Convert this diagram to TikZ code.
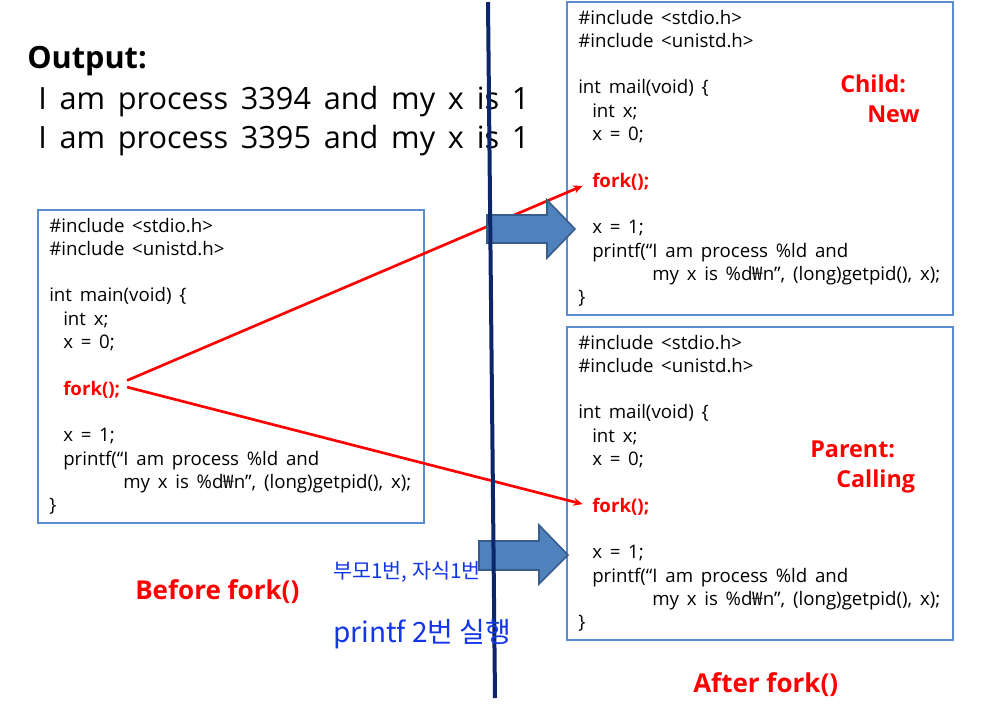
\documentclass[tikz,border=0pt]{standalone}
\usepackage{fontspec}
\setmainfont{Open Sans}[WordSpace=1.6]
\newfontfamily\labelfont{Open Sans}
\newfontfamily\krfont{Noto Sans CJK KR}
\usetikzlibrary{arrows.meta}

\definecolor{codeframe}{RGB}{91,140,205}
\definecolor{arrowfill}{RGB}{79,129,189}
\definecolor{arrowedge}{RGB}{56,93,138}
\definecolor{divider}{RGB}{12,38,105}
\definecolor{penblue}{RGB}{20,55,230}
\definecolor{hotred}{RGB}{255,0,0}

\tikzset{
  codeline/.style={anchor=base west, inner sep=0pt, font=\fontsize{14}{16}\selectfont},
  forkline/.style={codeline, text=hotred, font=\fontsize{14}{16}\selectfont\bfseries},
  framebox/.style={draw=codeframe, line width=0.8pt},
  blockarrow/.style={fill=arrowfill, draw=arrowedge, line width=1.2pt, line join=miter},
  callout/.style={anchor=base west, inner sep=0pt, text=hotred, font=\labelfont\fontsize{17.5}{22}\selectfont\bfseries},
  outline/.style={anchor=base west, inner sep=0pt, font=\fontsize{23}{28}\selectfont},
  forkarrow/.style={hotred, line width=2pt, -{Stealth[length=7pt,width=6pt]}},
  pennote/.style={anchor=base west, inner sep=0pt, text=penblue},
}

\begin{document}
\begin{tikzpicture}[x=0.75pt,y=-0.75pt]
  \fill[white] (0,0) rectangle (1004,718);
  \useasboundingbox (0,0) rectangle (1004,718);
  % Program output
  \node[outline, font=\fontsize{23}{28}\selectfont\bfseries] (outtitle) at (27,68) {Output:};
  \node[outline] (out1) at (38,109) {I am process 3394 and my x is 1};
  \node[outline] (out2) at (38,148) {I am process 3395 and my x is 1};
  % Code boxes: before fork, child, parent
  \foreach \nm/\bx/\by/\fname in {before/38/210/main, child/567/2/mail, parent/567/327/mail} {
    \draw[framebox] (\bx,\by) rectangle ++(386,313);
    \foreach \row/\ofs/\txt in {0/0/{\#include <stdio.h>}, 1/0/{\#include <unistd.h>},
        3/0/{int \fname(void) \{}, 4/14/{int x;}, 5/14/{x = 0;}, 9/14/{x = 1;},
        10/14/{printf(“I am process \%ld and}, 11/74/{my x is \%d{\krfont ₩}n”, (long)getpid(), x);},
        12/0/{\}}}
      \node[codeline] (\nm-\row) at (\bx+11+\ofs, \by+22+\row*23.3) {\txt};
    \node[forkline] (\nm-fork) at (\bx+25, \by+22+7*23.3) {fork();};
  }
  % fork() goes to both processes
  \draw[forkarrow] ([xshift=5pt,yshift=11pt]before-fork.base east) -- ([xshift=-7pt,yshift=1pt]child-fork.base west);
  \draw[forkarrow] ([xshift=5pt,yshift=6pt]before-fork.base east) -- ([xshift=-7pt,yshift=6pt]parent-fork.base west);
  % Block arrows
  \draw[blockarrow] (487,215) -- (547,215) -- (547,200) -- (575,229) -- (547,258) -- (547,243) -- (487,243) -- cycle;
  \draw[blockarrow] (479,541) -- (539,541) -- (539,525) -- (568,555) -- (539,584) -- (539,570) -- (479,570) -- cycle;
  % Divider
  \draw[divider, line width=3pt] (488,2) -- (495,698);
  % Labels
  \node[callout] (childlbl) at (840,92) {Child:};
  \node[callout] (newlbl) at (867,122) {New};
  \node[callout] (parentlbl) at (810,457) {Parent:};
  \node[callout] (callinglbl) at (836,487) {Calling};
  \node[callout, font=\labelfont\fontsize{19.5}{22}\selectfont\bfseries] (beforelbl) at (135,599) {Before fork()};
  \node[callout, font=\labelfont\fontsize{19.5}{22}\selectfont\bfseries] (afterlbl) at (693,692) {After fork()};
  % Handwritten note
  \node[pennote, font=\krfont\fontsize{15.5}{20}\selectfont] (note1) at (333,578) {부모1번, 자식1번};
  \node[pennote, font=\krfont\fontsize{21}{24}\selectfont] (note2) at (333,642) {printf 2번 실행};
\end{tikzpicture}
\end{document}
